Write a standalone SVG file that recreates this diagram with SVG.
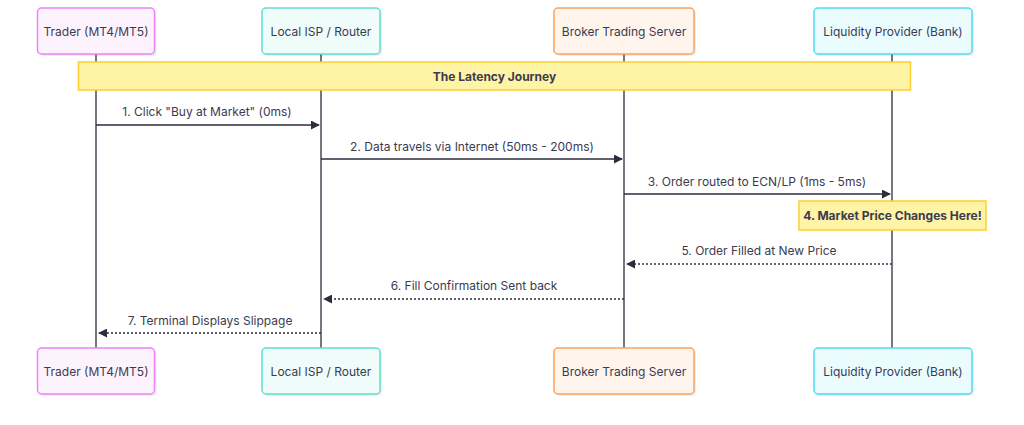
<svg xmlns="http://www.w3.org/2000/svg" width="1024" height="425" viewBox="0 0 1024 425">
<defs>
<style>
text{font-family:Inter,"Open Sans","Liberation Sans",sans-serif;font-size:12px;fill:#3b3b4f;text-anchor:middle;dominant-baseline:central}
.life{stroke:#2d2d3d;stroke-width:1.3}
.msg{stroke:#2d2d3d;stroke-width:1.3;fill:none}
.dot{stroke-dasharray:2,2}
.note{fill:#fff3a6;stroke:#fbcf2f;stroke-width:1.5}
.b{font-weight:bold}
.sh{fill:#000;opacity:0.07}
</style>
<marker id="ah" viewBox="0 0 10 10" refX="9" refY="5" markerWidth="9" markerHeight="9" markerUnits="userSpaceOnUse" orient="auto">
<path d="M0,0 L10,5 L0,10 z" fill="#2d2d3d"/>
</marker>
</defs>
<rect width="1024" height="425" fill="#ffffff"/>
<g id="lifelines">
<line class="life" x1="96" y1="54" x2="96" y2="348"/>
<line class="life" x1="321" y1="54" x2="321" y2="348"/>
<line class="life" x1="624" y1="54" x2="624" y2="348"/>
<line class="life" x1="892" y1="54" x2="892" y2="348"/>
</g>
<g id="trader-top">
<rect class="sh" x="39.5" y="10" width="117" height="46" rx="4"/>
<rect x="37.5" y="8" width="117" height="46" rx="4" fill="#fdf3ff" stroke="#ec84f5" stroke-width="1.5"/>
<text x="96" y="31">Trader (MT4/MT5)</text>
</g>
<g id="isp-top">
<rect class="sh" x="264" y="10" width="118" height="46" rx="4"/>
<rect x="262" y="8" width="118" height="46" rx="4" fill="#effcfa" stroke="#5ee0cc" stroke-width="1.5"/>
<text x="321" y="31">Local ISP / Router</text>
</g>
<g id="broker-top">
<rect class="sh" x="556" y="10" width="140" height="46" rx="4"/>
<rect x="554" y="8" width="140" height="46" rx="4" fill="#fff5ed" stroke="#fba35e" stroke-width="1.5"/>
<text x="624" y="31">Broker Trading Server</text>
</g>
<g id="lp-top">
<rect class="sh" x="816" y="10" width="158" height="46" rx="4"/>
<rect x="814" y="8" width="158" height="46" rx="4" fill="#ebfcff" stroke="#4ddcf2" stroke-width="1.5"/>
<text x="893" y="31">Liquidity Provider (Bank)</text>
</g>
<g id="note-journey">
<rect class="note" x="78.5" y="62" width="832" height="28"/>
<text class="b" x="494.5" y="76">The Latency Journey</text>
</g>
<g id="connectors">
<line class="msg" x1="96" y1="125" x2="319" y2="125" marker-end="url(#ah)"/>
<text x="207" y="111">1. Click "Buy at Market" (0ms)</text>
<line class="msg" x1="321" y1="159" x2="622" y2="159" marker-end="url(#ah)"/>
<text x="472" y="146">2. Data travels via Internet (50ms - 200ms)</text>
<line class="msg" x1="624" y1="194" x2="890" y2="194" marker-end="url(#ah)"/>
<text x="757" y="181">3. Order routed to ECN/LP (1ms - 5ms)</text>
<line class="msg dot" x1="892" y1="264" x2="627" y2="264" marker-end="url(#ah)"/>
<text x="759" y="250">5. Order Filled at New Price</text>
<line class="msg dot" x1="624" y1="299" x2="324" y2="299" marker-end="url(#ah)"/>
<text x="474" y="285">6. Fill Confirmation Sent back</text>
<line class="msg dot" x1="321" y1="333" x2="99" y2="333" marker-end="url(#ah)"/>
<text x="210" y="320">7. Terminal Displays Slippage</text>
</g>
<g id="note-price">
<rect class="note" x="799" y="201" width="187" height="29"/>
<text class="b" x="892.5" y="215.5">4. Market Price Changes Here!</text>
</g>
<g id="trader-bottom">
<rect class="sh" x="39.5" y="350" width="117" height="46" rx="4"/>
<rect x="37.5" y="348" width="117" height="46" rx="4" fill="#fdf3ff" stroke="#ec84f5" stroke-width="1.5"/>
<text x="96" y="371">Trader (MT4/MT5)</text>
</g>
<g id="isp-bottom">
<rect class="sh" x="264" y="350" width="118" height="46" rx="4"/>
<rect x="262" y="348" width="118" height="46" rx="4" fill="#effcfa" stroke="#5ee0cc" stroke-width="1.5"/>
<text x="321" y="371">Local ISP / Router</text>
</g>
<g id="broker-bottom">
<rect class="sh" x="556" y="350" width="140" height="46" rx="4"/>
<rect x="554" y="348" width="140" height="46" rx="4" fill="#fff5ed" stroke="#fba35e" stroke-width="1.5"/>
<text x="624" y="371">Broker Trading Server</text>
</g>
<g id="lp-bottom">
<rect class="sh" x="816" y="350" width="158" height="46" rx="4"/>
<rect x="814" y="348" width="158" height="46" rx="4" fill="#ebfcff" stroke="#4ddcf2" stroke-width="1.5"/>
<text x="893" y="371">Liquidity Provider (Bank)</text>
</g>
</svg>
